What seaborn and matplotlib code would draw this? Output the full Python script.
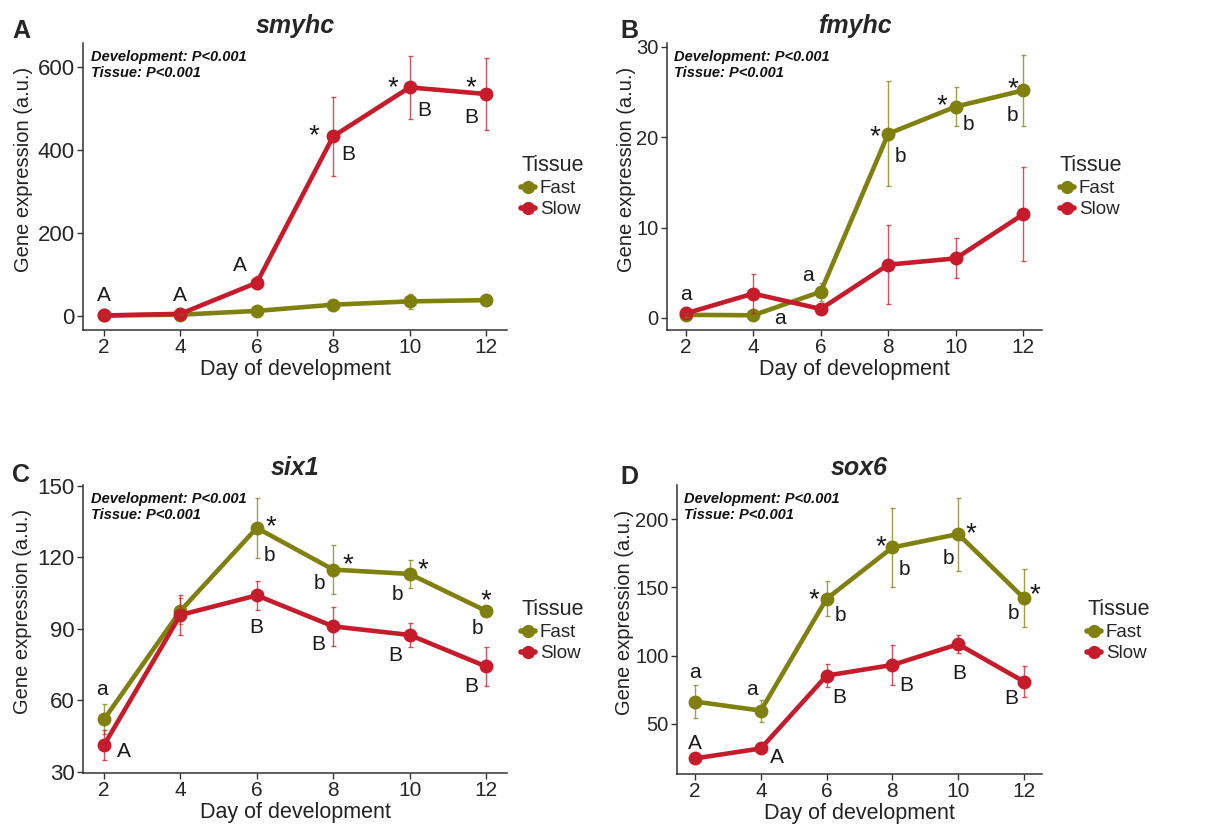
import numpy as np
import pandas as pd
import matplotlib
matplotlib.use("Agg")
import matplotlib.pyplot as plt
from matplotlib.lines import Line2D
import seaborn as sns

sns.set_theme(style="ticks")
plt.rcParams["font.family"] = ["Liberation Sans", "DejaVu Sans"]

# ---- data: mean expression and error per day, for each tissue ----
days = [2, 4, 6, 8, 10, 12]
tissues = ["Fast", "Slow"]

smyhc_fast = [1, 3, 12, 27, 35, 38]
smyhc_fast_err = [2, 2, 4, 5, 19, 5]
smyhc_slow = [1, 5, 80, 433, 551, 535]
smyhc_slow_err = [2, 3, 15, 95, 76, 87]

fmyhc_fast = [0.35, 0.3, 2.9, 20.4, 23.4, 25.2]
fmyhc_fast_err = [0.2, 0.2, 1.0, 5.8, 2.2, 3.9]
fmyhc_slow = [0.5, 2.7, 1.0, 5.9, 6.6, 11.5]
fmyhc_slow_err = [0.2, 2.2, 0.3, 4.4, 2.2, 5.2]

six1_fast = [52.0, 97.5, 132.3, 114.8, 113.0, 97.5]
six1_fast_err = [6.3, 5.5, 12.6, 10.4, 6.0, 1.5]
six1_slow = [41.2, 95.8, 104.0, 91.0, 87.4, 74.2]
six1_slow_err = [6.3, 8.4, 6.0, 8.2, 5.2, 8.0]

sox6_fast = [66.4, 59.8, 141.6, 179.2, 189.0, 142.1]
sox6_fast_err = [12.2, 8.0, 12.8, 28.8, 26.7, 21.4]
sox6_slow = [24.8, 32.1, 85.4, 93.2, 108.4, 81.0]
sox6_slow_err = [2.0, 2.0, 8.4, 14.7, 6.5, 11.2]

# significance letters / asterisks: (text, day position, y value)
smyhc_marks = [("A", 2.0, 55), ("A", 3.98, 55), ("A", 5.57, 127),
               ("*", 7.49, 455), ("B", 8.39, 395),
               ("*", 9.57, 572), ("B", 10.38, 500),
               ("*", 11.6, 572), ("B", 11.62, 484)]
fmyhc_marks = [("a", 2.0, 2.6), ("a", 4.79, -0.1), ("a", 5.63, 4.7),
               ("*", 7.6, 21.0), ("b", 8.35, 18.1),
               ("*", 9.58, 24.4), ("b", 10.37, 21.6),
               ("*", 11.68, 26.3), ("b", 11.68, 22.6)]
six1_marks = [("a", 1.94, 64.6), ("A", 2.51, 39.2),
              ("*", 6.36, 136.5), ("b", 6.33, 121.5), ("B", 5.98, 91.4),
              ("*", 8.38, 120.4), ("b", 7.65, 110.0), ("B", 7.61, 84.1),
              ("*", 10.34, 118.3), ("b", 9.68, 105.4), ("B", 9.62, 79.5),
              ("*", 12.0, 105.4), ("b", 11.77, 90.8), ("B", 11.62, 66.7)]
sox6_marks = [("a", 2.0, 87.6), ("a", 3.74, 74.9), ("A", 2.0, 37.0), ("A", 4.49, 26.8),
              ("*", 5.6, 147), ("b", 6.42, 131.1), ("B", 6.38, 70.5),
              ("*", 7.66, 186), ("b", 8.37, 164.8), ("B", 8.41, 79.3),
              ("*", 10.4, 195.8), ("b", 9.7, 172.6), ("B", 10.03, 88.3),
              ("*", 12.34, 150.6), ("b", 11.67, 132.3), ("B", 11.62, 70.0)]

stats_text = "Development: P<0.001\nTissue: P<0.001"

palette = {"Fast": "#7f800e", "Slow": "#c51b2b"}

panels = [
    dict(letter="A", gene="smyhc", fast=smyhc_fast, fast_err=smyhc_fast_err,
         slow=smyhc_slow, slow_err=smyhc_slow_err, marks=smyhc_marks,
         ylim=(-34, 658), yticks=[0, 200, 400, 600], ytick_size=16,
         rect=[83, 43, 507, 330], leg=(521, 155), letter_pos=(12, 31), ylab_x=24),
    dict(letter="B", gene="fmyhc", fast=fmyhc_fast, fast_err=fmyhc_fast_err,
         slow=fmyhc_slow, slow_err=fmyhc_slow_err, marks=fmyhc_marks,
         ylim=(-1.33, 30.44), yticks=[0, 10, 20, 30], ytick_size=14.5,
         rect=[667, 43, 1042, 330], leg=(1060, 155), letter_pos=(620, 31), ylab_x=627),
    dict(letter="C", gene="six1", fast=six1_fast, fast_err=six1_fast_err,
         slow=six1_slow, slow_err=six1_slow_err, marks=six1_marks,
         ylim=(29.5, 150.3), yticks=[30, 60, 90, 120, 150], ytick_size=16,
         rect=[83, 485, 507, 773], leg=(521, 599), letter_pos=(12, 475), ylab_x=23),
    dict(letter="D", gene="sox6", fast=sox6_fast, fast_err=sox6_fast_err,
         slow=sox6_slow, slow_err=sox6_slow_err, marks=sox6_marks,
         ylim=(13.4, 224.9), yticks=[50, 100, 150, 200], ytick_size=14.5,
         rect=[677, 485, 1042, 774], leg=(1087, 599), letter_pos=(620, 477), ylab_x=624),
]

W, H = 1207, 827
fig = plt.figure(figsize=(W / 100, H / 100), dpi=100)
axis_col = "#333333"
text_col = "#1a1a1a"

LETTER_SIZE = 15
STAR_SIZE = 20
# vertical centre of each glyph above the baseline, in em
glyph_mid = {"*": 0.58, "a": 0.26}

for p in panels:
    l, t, r, b = p["rect"]
    ax = fig.add_axes([l / W, 1 - b / H, (r - l) / W, (b - t) / H])

    df = pd.DataFrame({
        "Day": days * 2,
        "Expression": list(p["fast"]) + list(p["slow"]),
        "Err": list(p["fast_err"]) + list(p["slow_err"]),
        "Tissue": ["Fast"] * len(days) + ["Slow"] * len(days),
    })

    sns.lineplot(data=df, x="Day", y="Expression", hue="Tissue",
                 hue_order=tissues, palette=palette, marker="o",
                 markersize=10, markeredgewidth=0, linewidth=3.3,
                 errorbar=None, legend=False, ax=ax)

    for tissue in tissues:
        sub = df[df["Tissue"] == tissue]
        ax.errorbar(sub["Day"], sub["Expression"], yerr=sub["Err"], fmt="none",
                    ecolor=palette[tissue], elinewidth=1.0, capsize=1.8,
                    capthick=1.0, alpha=0.75, zorder=4)

    for txt, xv, yv in p["marks"]:
        size = STAR_SIZE if txt == "*" else LETTER_SIZE
        shift = -glyph_mid.get(txt, 0.36) * size
        ax.annotate(txt, (xv, yv), xytext=(0, shift), textcoords="offset points",
                    ha="center", va="baseline", fontsize=size, color=text_col)

    ax.set_xlim(1.45, 12.55)
    ax.set_ylim(*p["ylim"])
    ax.set_xticks(days)
    ax.set_yticks(p["yticks"])
    ax.tick_params(axis="both", length=4, width=1, color=axis_col,
                   labelcolor="#262626", pad=2)
    ax.tick_params(axis="x", labelsize=15)
    ax.tick_params(axis="y", labelsize=p["ytick_size"])
    for side in ["top", "right"]:
        ax.spines[side].set_visible(False)
    for side in ["left", "bottom"]:
        ax.spines[side].set_color(axis_col)
        ax.spines[side].set_linewidth(1.1)
    ax.set_xlabel("Day of development", fontsize=15.5, labelpad=1, color="#222222")
    ax.set_ylabel("Gene expression (a.u.)", fontsize=14.5, color="#222222")
    ax.yaxis.label.set_va("center")
    ax.yaxis.set_label_coords((p["ylab_x"] - l) / (r - l), 0.56)
    ax.set_title(p["gene"], fontsize=18, fontweight="bold", fontstyle="italic",
                 pad=7)

    ax.text(0.018, 0.975, stats_text, transform=ax.transAxes, ha="left", va="top",
            fontsize=10.5, fontweight="bold", fontstyle="italic",
            linespacing=1.15, color="#111111")

    lx, ly = p["letter_pos"]
    fig.text(lx / W, 1 - ly / H, p["letter"], fontsize=18,
             fontweight="bold", ha="left", va="center")

    handles = [Line2D([], [], color=palette[tv], marker="o", markersize=9.5,
                      markeredgewidth=0, linewidth=4) for tv in tissues]
    lx, ly = p["leg"]
    ax.legend(handles, tissues, title="Tissue", loc="upper left",
              bbox_to_anchor=(lx / W, 1 - ly / H),
              bbox_transform=fig.transFigure, frameon=False,
              borderpad=0, borderaxespad=0, handlelength=0.75,
              handletextpad=0.25, labelspacing=0.22, fontsize=13.5,
              title_fontsize=15.5, alignment="left")

fig.savefig("out.png", dpi=100)
